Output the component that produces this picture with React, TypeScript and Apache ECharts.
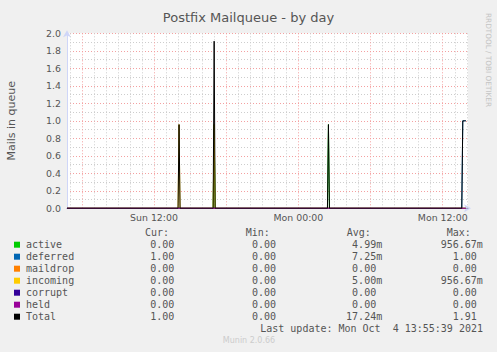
import React, { useEffect, useRef } from "react";
import * as echarts from "echarts";

// ---- data (x in hours since Sun 00:00, 5-minute samples) ----
const X_MIN = 4.77;
const X_MAX = 38.1;

const activeData: [number, number][] = [
  [4.77, 0], [16.917, 0], [17.0, 0.957], [17.083, 0],
  [26.417, 0], [26.5, 0.957], [26.583, 0], [37.917, 0],
];
const deferredData: [number, number][] = [
  [4.77, 0], [37.583, 0], [37.667, 1.0], [37.75, 1.0], [37.833, 1.0], [37.917, 1.0],
];
const maildropData: [number, number][] = [[4.77, 0], [37.917, 0]];
const incomingData: [number, number][] = [
  [4.77, 0], [14.0, 0], [14.083, 0.957], [14.167, 0],
  [16.917, 0], [17.0, 0.957], [17.083, 0], [37.917, 0],
];
const corruptData: [number, number][] = [[4.77, 0], [37.917, 0]];
const heldData: [number, number][] = [[4.77, 0], [37.917, 0]];
const totalData: [number, number][] = [
  [4.77, 0], [14.0, 0], [14.083, 0.957], [14.167, 0],
  [16.917, 0], [17.0, 1.91], [17.083, 0],
  [26.417, 0], [26.5, 0.957], [26.583, 0],
  [37.583, 0], [37.667, 1.0], [37.75, 1.0], [37.833, 1.0], [37.917, 1.0],
];

const xLabelHours = [12, 24, 36];
const xLabelTexts = ["Sun 12:00", "Mon 00:00", "Mon 12:00"];
const majorHours = [6, 12, 18, 24, 30, 36];

const seriesNames = ["active", "deferred", "maildrop", "incoming", "corrupt", "held", "Total"];
const seriesColors = ["#00CC00", "#0066B3", "#FF8000", "#FFCC00", "#330099", "#990099", "#000000"];
const seriesData = [activeData, deferredData, maildropData, incomingData, corruptData, heldData, totalData];

const curValues = ["0.00", "1.00", "0.00", "0.00", "0.00", "0.00", "1.00"];
const minValues = ["0.00", "0.00", "0.00", "0.00", "0.00", "0.00", "0.00"];
const avgValues = ["4.99m", "7.25m", "0.00", "5.00m", "0.00", "0.00", "17.24m"];
const maxValues = ["956.67m", "1.00", "0.00", "956.67m", "0.00", "0.00", "1.91"];
const columnHeaders = ["Cur:", "Min:", "Avg:", "Max:"];

const TITLE = "Postfix Mailqueue - by day";
const Y_NAME = "Mails in queue";
const LAST_UPDATE = "Last update: Mon Oct  4 13:55:39 2021";
const FOOTER = "Munin 2.0.66";
const SIDE_TEXT = "RRDTOOL / TOBI OETIKER";

export default function App() {
  const ref = useRef<HTMLDivElement>(null);

  useEffect(() => {
    document.body.style.margin = "0";
    if (!ref.current) return;
    const chart = echarts.init(ref.current, undefined, { renderer: "svg" });

    const minorHours: number[] = [];
    for (let h = 5; h <= 38; h++) if (h % 6 !== 0) minorHours.push(h);

    const textColor = "#555555";
    const mono = "DejaVu Sans Mono";
    const sans = "DejaVu Sans";
    const charW = 6.02;

    const headerX = [145, 245.7, 346.7, 446.7];
    const colRight = [180.3, 282, 382.2, 482.8];
    const rowY0 = 244.7;
    const rowH = 12;

    const graphics: any[] = [];
    columnHeaders.forEach((h, i) => {
      graphics.push({
        type: "text", x: headerX[i], y: 232.3,
        style: { text: h, font: `10px '${mono}'`, fill: textColor, textAlign: "left", textVerticalAlign: "middle" },
      });
    });
    const cols = [curValues, minValues, avgValues, maxValues];
    seriesNames.forEach((name, r) => {
      const y = rowY0 + r * rowH;
      graphics.push({
        type: "rect", shape: { x: 14, y: y - 3, width: 6, height: 6 },
        style: { fill: seriesColors[r] },
      });
      graphics.push({
        type: "text", x: 26, y,
        style: { text: name, font: `10px '${mono}'`, fill: textColor, textAlign: "left", textVerticalAlign: "middle" },
      });
      cols.forEach((col, c) => {
        const v = col[r];
        const right = colRight[c] - (v.endsWith("m") ? 0 : charW);
        graphics.push({
          type: "text", x: right, y,
          style: { text: v, font: `10px '${mono}'`, fill: textColor, textAlign: "right", textVerticalAlign: "middle" },
        });
      });
    });
    graphics.push({
      type: "text", x: 483, y: rowY0 + 7 * rowH,
      style: { text: LAST_UPDATE, font: `10px '${mono}'`, fill: textColor, textAlign: "right", textVerticalAlign: "middle" },
    });
    graphics.push({
      type: "text", x: 249, y: 340.5,
      style: { text: FOOTER, font: `8px '${sans}'`, fill: "#cccccc", textAlign: "center", textVerticalAlign: "middle" },
    });
    graphics.push({
      type: "text", x: 488.5, y: 60, rotation: -Math.PI / 2,
      style: { text: SIDE_TEXT, font: `7.3px '${sans}'`, fill: "#c4c4c4", textAlign: "center", textVerticalAlign: "middle" },
    });

    const option: any = {
      animation: false,
      backgroundColor: "#f0f0f0",
      title: {
        text: TITLE, left: "center", top: 6,
        textStyle: { fontFamily: sans, fontSize: 13, fontWeight: "normal", color: textColor },
      },
      grid: {
        left: 67, right: 29, top: 33.3, bottom: 143.7,
        containLabel: false, outerBoundsMode: "none",
        show: true, backgroundColor: "#ffffff", borderWidth: 0,
      },
      xAxis: [
        {
          type: "value", min: X_MIN, max: X_MAX, position: "bottom", z: 3,
          axisLine: { show: true, onZero: false, lineStyle: { color: "#a39bc2", width: 1 } },
          axisTick: { show: false, customValues: minorHours },
          axisLabel: {
            show: true, customValues: xLabelHours, margin: 5,
            formatter: (v: number) => xLabelTexts[xLabelHours.indexOf(v)] ?? "",
            fontFamily: sans, fontSize: 9.4, color: textColor,
          },
          splitLine: { show: true, lineStyle: { color: "#cdcdcd", type: [1, 2], width: 1 } },
        },
        {
          type: "value", min: X_MIN, max: X_MAX, position: "bottom", z: 1,
          axisLine: {
            show: true, onZero: false, symbol: ["none", "arrow"], symbolSize: [6, 7], symbolOffset: [0, 3],
            lineStyle: { color: "#CFD6F8", width: 1 },
          },
          axisTick: { show: false, customValues: majorHours },
          axisLabel: { show: false },
          splitLine: { show: true, lineStyle: { color: "#f4a0a0", type: [1, 2], width: 1 } },
        },
      ],
      yAxis: {
        type: "value", min: 0, max: 2, interval: 0.2,
        name: Y_NAME, nameLocation: "middle", nameGap: 50.5, nameRotate: 90,
        nameTextStyle: { fontFamily: sans, fontSize: 11, color: textColor },
        axisLine: {
          show: true, symbol: ["none", "arrow"], symbolSize: [6, 7], symbolOffset: [0, 3],
          lineStyle: { color: "#CFD6F8", width: 1 },
        },
        axisTick: { show: false },
        axisLabel: {
          margin: 6, formatter: (v: number) => v.toFixed(1),
          fontFamily: sans, fontSize: 9.4, color: textColor,
        },
        splitLine: { show: true, lineStyle: { color: "#f4a0a0", type: [1, 2], width: 1 } },
        minorTick: { show: false, splitNumber: 2 },
        minorSplitLine: { show: true, lineStyle: { color: "#cdcdcd", type: [1, 2], width: 1 } },
      },
      series: seriesNames.map((name, i) => ({
        name, type: "line", xAxisIndex: 0, data: seriesData[i],
        showSymbol: false, symbol: "none",
        lineStyle: { color: seriesColors[i], width: 1 },
        itemStyle: { color: seriesColors[i] },
      })),
      graphic: graphics,
    };
    chart.setOption(option);
    return () => chart.dispose();
  }, []);

  return <div ref={ref} style={{ width: 497, height: 352 }} />;
}
